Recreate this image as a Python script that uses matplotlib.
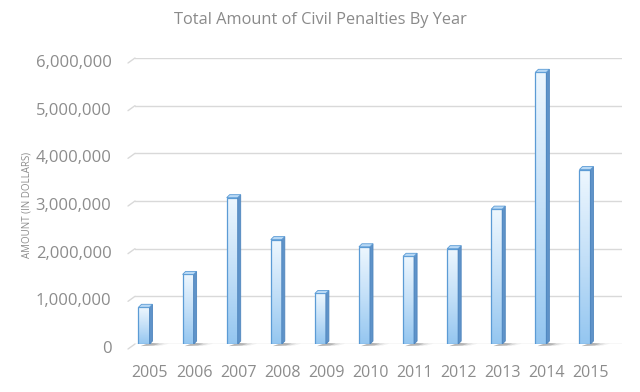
import numpy as np
import matplotlib
matplotlib.use("Agg")
import matplotlib.pyplot as plt
from matplotlib.patches import Rectangle, Polygon
from matplotlib.colors import LinearSegmentedColormap
from matplotlib.transforms import ScaledTranslation

years = ["2005", "2006", "2007", "2008", "2009", "2010", "2011", "2012", "2013", "2014", "2015"]
amounts = [770000, 1460000, 3070000, 2190000, 1060000, 2040000, 1840000, 2000000, 2830000, 5700000, 3660000]
yticks = [0, 1000000, 2000000, 3000000, 4000000, 5000000, 6000000]

plt.rcParams['font.family'] = ['Open Sans', 'DejaVu Sans']

fig = plt.figure(figsize=(6.4, 3.92), dpi=100)
ax = fig.add_axes([135/640, 1-344/392, (622-135)/640, (344-58)/392])

grid_c = "#d9d9d9"
text_c = "#8c8c8c"
ymax = 6000000
xmin, xmax = -0.204, 10.84
ax.set_xlim(xmin, xmax)
ax.set_ylim(0, ymax)

for v in yticks:
    ax.axhline(v, color=grid_c, lw=1.0, zorder=0)
    ax.annotate('', xy=(0, v), xycoords=ax.get_yaxis_transform(),
                xytext=(-7, -5), textcoords='offset pixels',
                arrowprops=dict(arrowstyle='-', color=grid_c, lw=1.0, shrinkA=0, shrinkB=0),
                annotation_clip=False)

w = 0.25
dx = 3 / 44.1
dy = 3 / 47.67 * 1e6
cmap = LinearSegmentedColormap.from_list("g", ["#94c6f0", "#c4e0f8", "#eef7fe"])
grad = np.linspace(0, 1, 256).reshape(-1, 1)

for i, v in enumerate(amounts):
    x0 = i - w / 2
    x1 = i + w / 2
    # shadow
    for k, a in enumerate([0.22, 0.12, 0.07]):
        sh = Polygon([(x0 + 0.05, -dy * 0.7), (x1 + 0.10 + k * 0.09, -dy * 0.5),
                      (x1 + 0.22 + k * 0.11, dy * 0.1), (x1, dy * 0.4)],
                     closed=True, facecolor="#3a3a3a", edgecolor='none', alpha=a,
                     zorder=1, clip_on=False)
        ax.add_patch(sh)
    # front face gradient
    im = ax.imshow(grad, extent=(x0, x1, v, 0), origin='upper', cmap=cmap,
                   aspect='auto', zorder=3)
    rect = Rectangle((x0, 0), w, v, facecolor='none', edgecolor="#5b9bd5",
                     lw=0.9, zorder=4)
    ax.add_patch(rect)
    im.set_clip_path(rect)
    # side face
    side = Polygon([(x1, 0), (x1, v), (x1 + dx, v + dy), (x1 + dx, dy)], closed=True,
                   facecolor="#5f93c9", edgecolor="#4f86be", lw=0.6, zorder=4)
    ax.add_patch(side)
    # top cap
    top = Polygon([(x0, v), (x1, v), (x1 + dx, v + dy), (x0 + dx, v + dy)], closed=True,
                  facecolor="#b9d9f5", edgecolor="#5b9bd5", lw=0.6, zorder=5)
    ax.add_patch(top)

ax.set_xlim(xmin, xmax)
ax.set_ylim(0, ymax)

for s in ax.spines.values():
    s.set_visible(False)

ax.set_xticks(range(len(years)))
ax.set_xticklabels(years, fontsize=11.5, color=text_c)
ax.set_yticks(yticks)
ax.set_yticklabels([f"{t:,}" for t in yticks], fontsize=12, color=text_c)
ax.tick_params(axis='x', length=0, pad=15)
ax.tick_params(axis='y', length=0, pad=17)
for lab in ax.get_xticklabels():
    lab.set_transform(lab.get_transform() + ScaledTranslation(6/100, 0, fig.dpi_scale_trans))
for lab in ax.get_yticklabels():
    lab.set_transform(lab.get_transform() + ScaledTranslation(0, -3/100, fig.dpi_scale_trans))

fig.text(320/640, 1-20/392, "Total Amount of Civil Penalties By Year", ha='center', va='center',
         fontsize=11.8, color="#8a8a8a")
fig.text(27/640, 1-205/392, "AMOUNT (IN DOLLARS)", rotation=90, ha='center', va='center',
         fontsize=7, color=text_c)

fig.savefig("out.png", dpi=100)
